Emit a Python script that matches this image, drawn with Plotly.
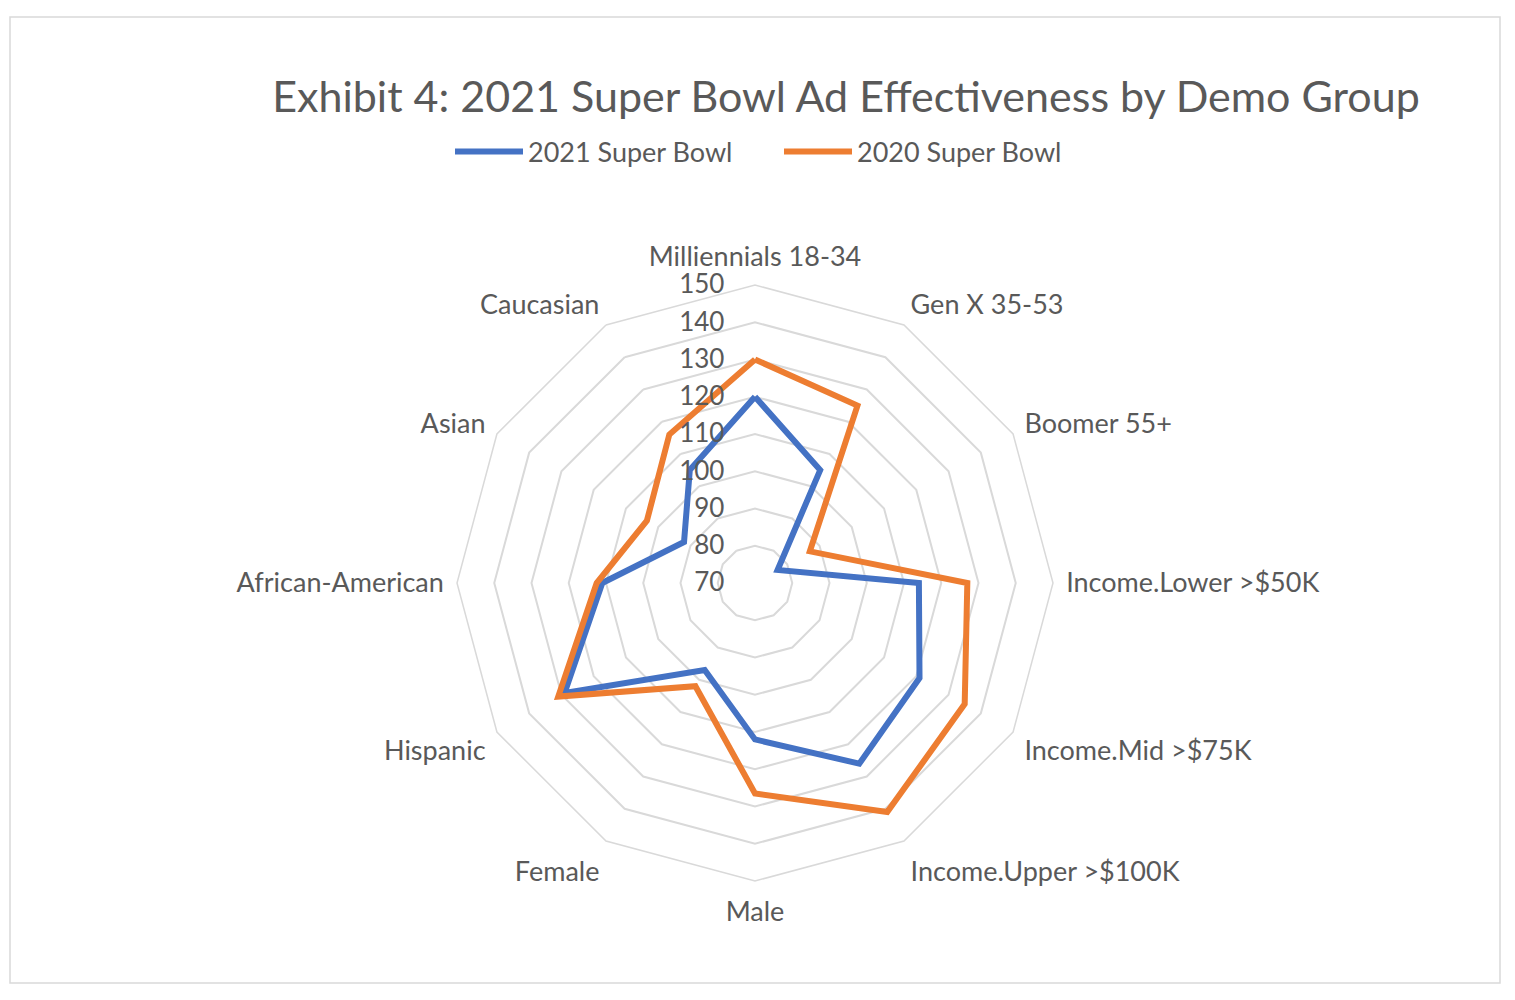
import plotly.graph_objects as go

categories = ["Milliennials 18-34", "Gen X 35-53", "Boomer 55+", "Income.Lower >$50K",
              "Income.Mid >$75K", "Income.Upper >$100K", "Male", "Female", "Hispanic",
              "African-American", "Asian", "Caucasian"]
sb2021 = [120, 105, 77, 114, 121, 126, 112, 97, 129, 111, 92, 105]
sb2020 = [130, 125, 87, 127, 135, 141, 126.5, 102, 131, 112.5, 103.5, 116]
radial_ticks = [70, 80, 90, 100, 110, 120, 130, 140, 150]

FONT = "Lato"
GRAY = "#595959"
GRID = "#d9d9d9"

fig = go.Figure()
for name, vals, color in [("2021 Super Bowl", sb2021, "#4472C4"),
                          ("2020 Super Bowl", sb2020, "#ED7D31")]:
    fig.add_trace(go.Scatterpolar(
        r=vals + vals[:1], theta=categories + categories[:1], name=name,
        mode="lines", line=dict(color=color, width=6)))

W, H = 1515, 1000
cx, cy, R = 755, 583, 298
fig.update_layout(
    width=W, height=H, margin=dict(l=0, r=0, t=0, b=0),
    paper_bgcolor="white", plot_bgcolor="white",
    font=dict(family=FONT, color=GRAY, size=27),
    title=dict(text="Exhibit 4: 2021 Super Bowl Ad Effectiveness by Demo Group",
               x=846 / W, xanchor="center", y=1 - 97 / H, yanchor="middle",
               font=dict(size=43, color=GRAY, family=FONT)),
    legend=dict(orientation="h", x=450 / W, xanchor="left", y=1 - 152 / H, yanchor="middle",
                font=dict(size=27, color=GRAY), itemwidth=68, entrywidth=246),
    polar=dict(
        domain=dict(x=[(cx - R) / W, (cx + R) / W], y=[1 - (cy + R) / H, 1 - (cy - R) / H]),
        gridshape="linear", bgcolor="white",
        radialaxis=dict(range=[70, 150], tickvals=radial_ticks, angle=90, tickangle=90,
                        showline=False, ticks="outside", ticklen=21, tickcolor="rgba(0,0,0,0)",
                        gridcolor=GRID, gridwidth=1.5,
                        side="counterclockwise", tickfont=dict(size=26, color=GRAY)),
        angularaxis=dict(direction="clockwise", rotation=90, showgrid=False,
                         showline=True, linecolor=GRID, linewidth=1.5,
                         ticks="outside", ticklen=7, tickcolor="rgba(0,0,0,0)",
                         tickfont=dict(size=27, color=GRAY)),
    ),
    shapes=[dict(type="rect", xref="paper", yref="paper", x0=10 / W, x1=1500 / W,
                 y0=1 - 983 / H, y1=1 - 17 / H, line=dict(color=GRID, width=1.5))],
)
fig.write_html("out.html")
